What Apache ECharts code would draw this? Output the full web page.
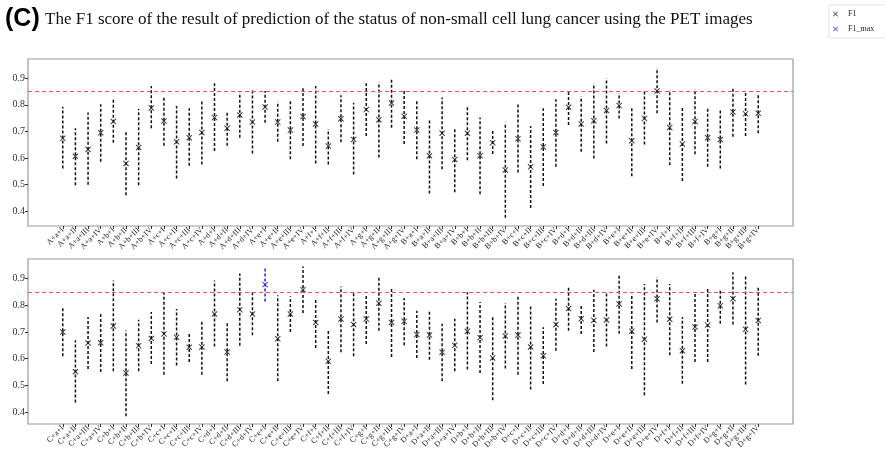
<!DOCTYPE html>
<html>
<head>
<meta charset="utf-8">
<script src="https://cdn.jsdelivr.net/npm/echarts@6/dist/echarts.min.js"></script>
<style>html,body{margin:0;padding:0;background:#fff;}#c{width:885px;height:452px;}</style>
</head>
<body>
<div id="c"></div>
<script>
// ---- data ----
const groupsTop = ['A', 'B'];
const groupsBottom = ['C', 'D'];
const features = ['a', 'b', 'c', 'd', 'e', 'f', 'g'];
const stages = ['I', 'II', 'III', 'IV'];
const threshold = 0.85;
const yTicks = [0.4, 0.5, 0.6, 0.7, 0.8, 0.9];

const f1Top = [0.674,0.607,0.632,0.695,0.737,0.580,0.640,0.788,0.739,0.661,0.676,0.696,0.752,0.712,0.762,0.735,0.792,0.735,0.705,
  0.756,0.728,0.645,0.748,0.670,0.782,0.744,0.807,0.757,0.705,0.609,0.693,0.595,0.693,0.609,0.658,0.555,0.673,0.567,0.642,0.696,0.791,0.728,
  0.740,0.779,0.797,0.665,0.749,0.852,0.715,0.653,0.737,0.676,0.670,0.773,0.766,0.768];
const lowTop = [0.561,0.498,0.500,0.586,0.658,0.460,0.498,0.712,0.646,0.523,0.571,0.576,0.627,0.646,0.676,0.617,0.733,0.661,0.596,
  0.645,0.580,0.576,0.659,0.538,0.683,0.602,0.714,0.653,0.596,0.467,0.558,0.472,0.592,0.464,0.615,0.376,0.546,0.413,0.495,0.567,0.724,0.624,
  0.598,0.655,0.749,0.532,0.651,0.768,0.573,0.514,0.614,0.567,0.561,0.680,0.683,0.693];
const highTop = [0.793,0.712,0.771,0.802,0.822,0.699,0.784,0.871,0.833,0.796,0.787,0.813,0.881,0.778,0.846,0.856,0.852,0.812,0.818,
  0.862,0.871,0.709,0.836,0.808,0.881,0.885,0.899,0.852,0.815,0.749,0.827,0.715,0.796,0.752,0.705,0.734,0.802,0.720,0.787,0.821,0.854,0.831,
  0.881,0.900,0.843,0.789,0.850,0.938,0.856,0.791,0.859,0.787,0.781,0.862,0.847,0.841];

const f1Bottom = [0.700,0.551,0.659,0.660,0.723,0.546,0.649,0.676,0.693,0.680,0.643,0.644,0.768,0.625,0.784,0.768,0.878,0.675,0.768,
  0.859,0.736,0.590,0.749,0.728,0.749,0.808,0.736,0.740,0.691,0.689,0.624,0.650,0.703,0.679,0.603,0.685,0.689,0.644,0.611,0.728,0.788,0.750,
  0.744,0.745,0.805,0.703,0.673,0.825,0.748,0.630,0.719,0.726,0.799,0.825,0.710,0.743];
const lowBottom = [0.609,0.436,0.561,0.550,0.553,0.384,0.553,0.580,0.540,0.574,0.588,0.540,0.646,0.515,0.649,0.688,0.815,0.515,0.700,
  0.771,0.640,0.468,0.624,0.609,0.655,0.705,0.606,0.650,0.603,0.596,0.515,0.553,0.559,0.546,0.444,0.563,0.540,0.484,0.505,0.630,0.705,0.693,
  0.625,0.646,0.694,0.561,0.463,0.736,0.613,0.506,0.588,0.588,0.731,0.728,0.503,0.611];
const highBottom = [0.793,0.669,0.756,0.769,0.893,0.706,0.746,0.775,0.846,0.786,0.696,0.746,0.893,0.734,0.920,0.849,0.940,0.838,0.834,
  0.946,0.828,0.706,0.871,0.846,0.840,0.906,0.868,0.828,0.780,0.780,0.731,0.750,0.849,0.813,0.763,0.809,0.834,0.803,0.718,0.825,0.871,0.805,
  0.859,0.846,0.913,0.844,0.880,0.906,0.880,0.756,0.850,0.861,0.861,0.924,0.915,0.871];

// ---- build ----
function makeLabels(groups) {
  const out = [];
  groups.forEach(g => features.forEach(f => stages.forEach(s => out.push(g + '+' + f + '+' + s))));
  return out;
}
const labelsTop = makeLabels(groupsTop);
const labelsBottom = makeLabels(groupsBottom);
const idx = labelsTop.map((_, i) => i);

const all = f1Top.concat(f1Bottom);
const globalMax = Math.max.apply(null, all);
const maxBottomIdx = f1Bottom.indexOf(globalMax);

const xPath = 'path://M1.2,0 L5,3.8 L8.8,0 L10,1.2 L6.2,5 L10,8.8 L8.8,10 L5,6.2 L1.2,10 L0,8.8 L3.8,5 L0,1.2 Z';
const BLUE = '#1f1fff';
const RED = '#f05050';
const serif = 'Liberation Serif';

function errRender(params, api) {
  const x = api.value(0), lo = api.value(1), hi = api.value(2), isMax = api.value(3);
  const p1 = api.coord([x, lo]), p2 = api.coord([x, hi]);
  return {
    type: 'line',
    shape: { x1: p1[0], y1: p1[1], x2: p2[0], y2: p2[1] },
    style: { stroke: isMax ? BLUE : '#111', lineWidth: 1.5, lineDash: [3, 2] }
  };
}
function thresholdRender(params, api) {
  const cs = params.coordSys;
  const y = Math.round(api.coord([0, api.value(0)])[1]) + 0.5;
  return {
    type: 'line',
    shape: { x1: cs.x, y1: y, x2: cs.x + cs.width, y2: y },
    style: { stroke: RED, lineWidth: 1.1, lineDash: [4, 3] }
  };
}

function xAxisFor(labels, gi) {
  return {
    type: 'value', gridIndex: gi, min: -2.75, max: 57.75,
    splitLine: { show: false },
    axisLine: { show: false, onZero: false },
    axisTick: { show: true, customValues: idx, length: 3, lineStyle: { color: '#333' } },
    axisLabel: {
      customValues: idx, rotate: 45, fontFamily: serif, fontSize: 8, color: '#222', margin: 3,
      formatter: v => labels[Math.round(v)]
    }
  };
}
function yAxisFor(gi, min, max) {
  return {
    type: 'value', gridIndex: gi, min: min, max: max,
    splitLine: { show: false },
    axisLine: { show: false, onZero: false },
    axisTick: { show: true, customValues: yTicks, length: 3, lineStyle: { color: '#333' } },
    axisLabel: { customValues: yTicks, fontFamily: serif, fontSize: 10, color: '#333', margin: 3,
      formatter: v => v.toFixed(1) }
  };
}

const chart = echarts.init(document.getElementById('c'));
chart.setOption({
  backgroundColor: '#fff',
  animation: false,
  graphic: [
    { type: 'text', left: 5, top: 7, style: { text: '(C)', fontFamily: 'Liberation Sans', fontWeight: 'bold', fontSize: 25, fill: '#000' } },
    { type: 'text', left: 45, top: 11, style: { text: 'The F1 score of the result of prediction of the status of non-small cell lung cancer using the PET images', fontFamily: serif, fontSize: 17, fill: '#111' } }
  ],
  legend: {
    left: 829, top: 5, orient: 'vertical', itemWidth: 5, itemHeight: 5, itemGap: 7,
    padding: [5, 14, 5, 4], borderColor: '#e4e4e4', borderWidth: 1,
    textStyle: { fontFamily: serif, fontSize: 8, color: '#222', padding: [0, 0, 0, 5] },
    data: [
      { name: 'F1', icon: xPath, itemStyle: { color: '#111' } },
      { name: 'F1_max', icon: xPath, itemStyle: { color: BLUE } }
    ]
  },
  grid: [
    { left: 28, right: 92, top: 59, height: 167, show: true, borderColor: '#999', borderWidth: 1.2, backgroundColor: 'transparent' },
    { left: 28, right: 92, top: 259, height: 165, show: true, borderColor: '#999', borderWidth: 1.2, backgroundColor: 'transparent' }
  ],
  xAxis: [xAxisFor(labelsTop, 0), xAxisFor(labelsBottom, 1)],
  yAxis: [yAxisFor(0, 0.345, 0.972), yAxisFor(1, 0.355, 0.974)],
  series: [
    {
      type: 'custom', name: 'errTop', xAxisIndex: 0, yAxisIndex: 0, renderItem: errRender, z: 2,
      data: idx.map(i => [i, lowTop[i], highTop[i], 0])
    },
    {
      type: 'custom', name: 'errBottom', xAxisIndex: 1, yAxisIndex: 1, renderItem: errRender, z: 2,
      data: idx.map(i => [i, lowBottom[i], highBottom[i], i === maxBottomIdx ? 1 : 0])
    },
    { type: 'custom', name: 'thrTop', xAxisIndex: 0, yAxisIndex: 0, renderItem: thresholdRender, silent: true, z: 3,
      data: [[threshold]], encode: { y: 0 } },
    { type: 'custom', name: 'thrBottom', xAxisIndex: 1, yAxisIndex: 1, renderItem: thresholdRender, silent: true, z: 3,
      data: [[threshold]], encode: { y: 0 } },
    {
      type: 'scatter', name: 'F1', xAxisIndex: 0, yAxisIndex: 0, symbol: xPath, symbolSize: 6,
      itemStyle: { color: '#111' }, z: 5,
      data: idx.map(i => [i, f1Top[i]])
    },
    {
      type: 'scatter', name: 'F1', xAxisIndex: 1, yAxisIndex: 1, symbol: xPath, symbolSize: 6,
      itemStyle: { color: '#111' }, z: 5,
      data: idx.filter(i => i !== maxBottomIdx).map(i => [i, f1Bottom[i]])
    },
    {
      type: 'scatter', name: 'F1_max', xAxisIndex: 1, yAxisIndex: 1, symbol: xPath, symbolSize: 6,
      itemStyle: { color: BLUE }, z: 5,
      data: [[maxBottomIdx, f1Bottom[maxBottomIdx]]]
    }
  ]
});
</script>
</body>
</html>
